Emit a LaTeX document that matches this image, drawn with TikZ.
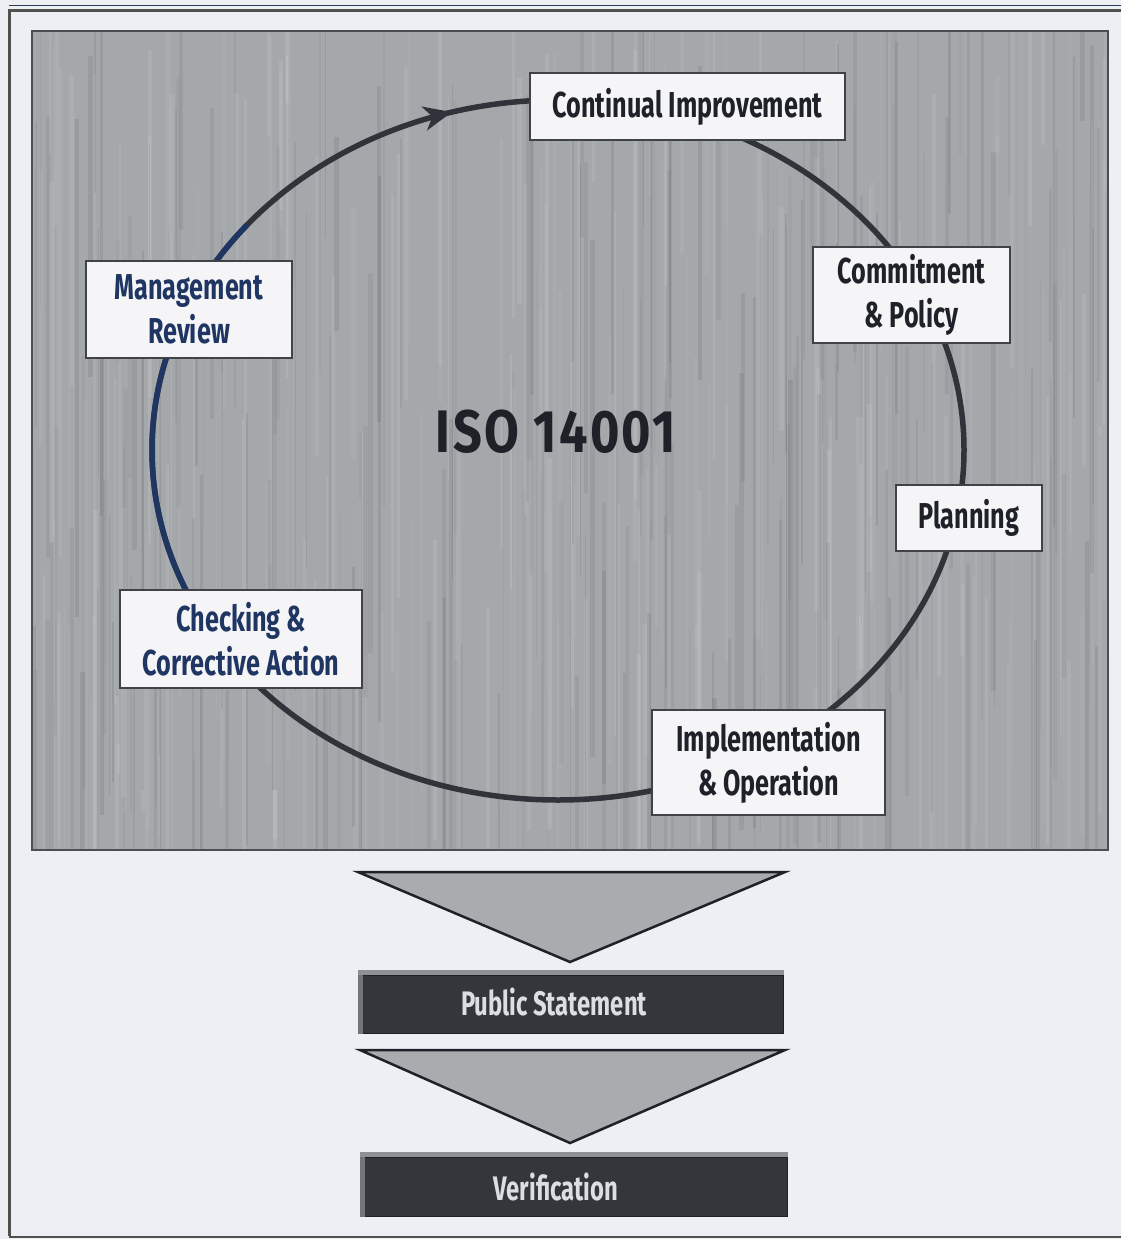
\documentclass[tikz,border=0pt]{standalone}
\usepackage{fontspec}
\setmainfont{Fira Sans}
\newfontfamily\labelfont[FakeStretch=0.70]{Fira Sans}
\newfontfamily\titlefont[FakeStretch=0.84,LetterSpace=4]{Fira Sans}
\usetikzlibrary{arrows.meta,decorations.markings}

\definecolor{pagebg}{HTML}{EEEEF5}
\definecolor{panelgray}{HTML}{A5A8AB}
\definecolor{boxfill}{HTML}{F5F5F8}
\definecolor{inkdark}{HTML}{1E2128}
\definecolor{inknavy}{HTML}{1F3562}
\definecolor{framegray}{HTML}{4E524C}
\definecolor{barfill}{HTML}{35363B}
\definecolor{bartop}{HTML}{8E9094}
\definecolor{bartext}{HTML}{DDDEE3}
\definecolor{trifill}{HTML}{A9ABAF}

\tikzset{
  stagebox/.style={draw=inkdark!85, line width=2pt, fill=boxfill, inner sep=0pt,
    align=center, font=\labelfont\bfseries\fontsize{36}{44}\selectfont, text=inkdark},
  cycleline/.style={line width=5.5pt, draw=inkdark!92},
  funnel/.style={draw=inkdark, line width=2.5pt, fill=trifill, line join=miter},
  resultbar/.style={fill=barfill, draw=inkdark, line width=1pt, inner sep=0pt},
  bartitle/.style={font=\labelfont\bfseries\fontsize{34}{40}\selectfont, text=bartext}
}

\begin{document}
\begin{tikzpicture}[x=1pt,y=-1pt]
\useasboundingbox (0,0) rectangle (1121,1239);
\fill[pagebg] (0,0) rectangle (1121,1239);

% outer frame
\begin{scope}
\clip (0,0) rectangle (1121,1239);
\draw[framegray, line width=3pt] (9,1236) -- (9,11) -- (1125,11);
\draw[inknavy!70!framegray, line width=1pt] (9,6) -- (1125,6);
\draw[framegray, line width=2pt] (9,1237) -- (1125,1237);
\end{scope}

% textured panel
\fill[panelgray] (32,31) rectangle (1108,850);
\begin{scope}
\clip (32,31) rectangle (1108,850);
\pgfmathsetseed{41}
\foreach \i in {1,...,420}{
  \pgfmathsetmacro\xa{32+1076*rnd}
  \pgfmathsetmacro\wd{1+4*rnd}
  \pgfmathsetmacro\op{0.03+0.07*rnd}
  \pgfmathsetmacro\ya{-100+800*rnd}
  \pgfmathsetmacro\ln{150+400*rnd}
  \ifodd\i
    \fill[white, opacity=\op] (\xa,\ya) rectangle ++(\wd,\ln);
  \else
    \fill[black, opacity=\op*0.8] (\xa,\ya) rectangle ++(\wd,\ln);
  \fi
}
\end{scope}
\draw[inkdark!80, line width=2pt] (32,31) rectangle (1108,850);

% the improvement cycle
\draw[cycleline, postaction={decorate},
  decoration={markings, mark=at position 0.705 with {\arrow{Stealth[length=28pt,width=24pt,inset=8pt]}}}]
  (558,450) ellipse [x radius=406, y radius=350];
\draw[line width=5.5pt, inknavy] (558,450) ++(155:406 and 350) arc[start angle=155, end angle=220, x radius=406, y radius=350];

\node[font=\titlefont\bfseries\fontsize{60}{70}\selectfont, text=inkdark] (iso) at (556,432) {ISO 14001};

\node[stagebox, minimum width=315pt, minimum height=67pt] (ci) at (687.5,106.5) {Continual Improvement};
\node[stagebox, minimum width=197pt, minimum height=96pt] (cp) at (911.5,295) {Commitment\\\& Policy};
\node[stagebox, minimum width=146pt, minimum height=66pt] (pl) at (969,518) {Planning};
\node[stagebox, minimum width=233pt, minimum height=105pt] (io) at (768.5,762.5) {Implementation\\\& Operation};
\node[stagebox, minimum width=242pt, minimum height=98pt, text=inknavy] (ca) at (241,639) {Checking \&\\Corrective Action};
\node[stagebox, minimum width=206pt, minimum height=97pt, text=inknavy] (mr) at (189,309.5) {Management\\Review};

% outcomes below the cycle
\draw[funnel] (358,872) -- (785,872) -- (570,962) -- cycle;
\node[resultbar, minimum width=425pt, minimum height=58pt] (ps) at (570.5,1004) {};
\fill[bartop] (ps.north west) rectangle ([yshift=5pt]ps.north east);
\fill[bartop!70!barfill] (ps.north west) rectangle ([xshift=5pt]ps.south west);
\node[bartitle] (pst) at (554,1002) {Public Statement};
\draw[funnel] (360,1050) -- (785,1050) -- (570,1143) -- cycle;
\node[resultbar, minimum width=427pt, minimum height=59pt] (vf) at (573.5,1186.5) {};
\fill[bartop] (vf.north west) rectangle ([yshift=5pt]vf.north east);
\fill[bartop!70!barfill] (vf.north west) rectangle ([xshift=5pt]vf.south west);
\node[bartitle] (vft) at (556,1187) {Verification};
\end{tikzpicture}
\end{document}
